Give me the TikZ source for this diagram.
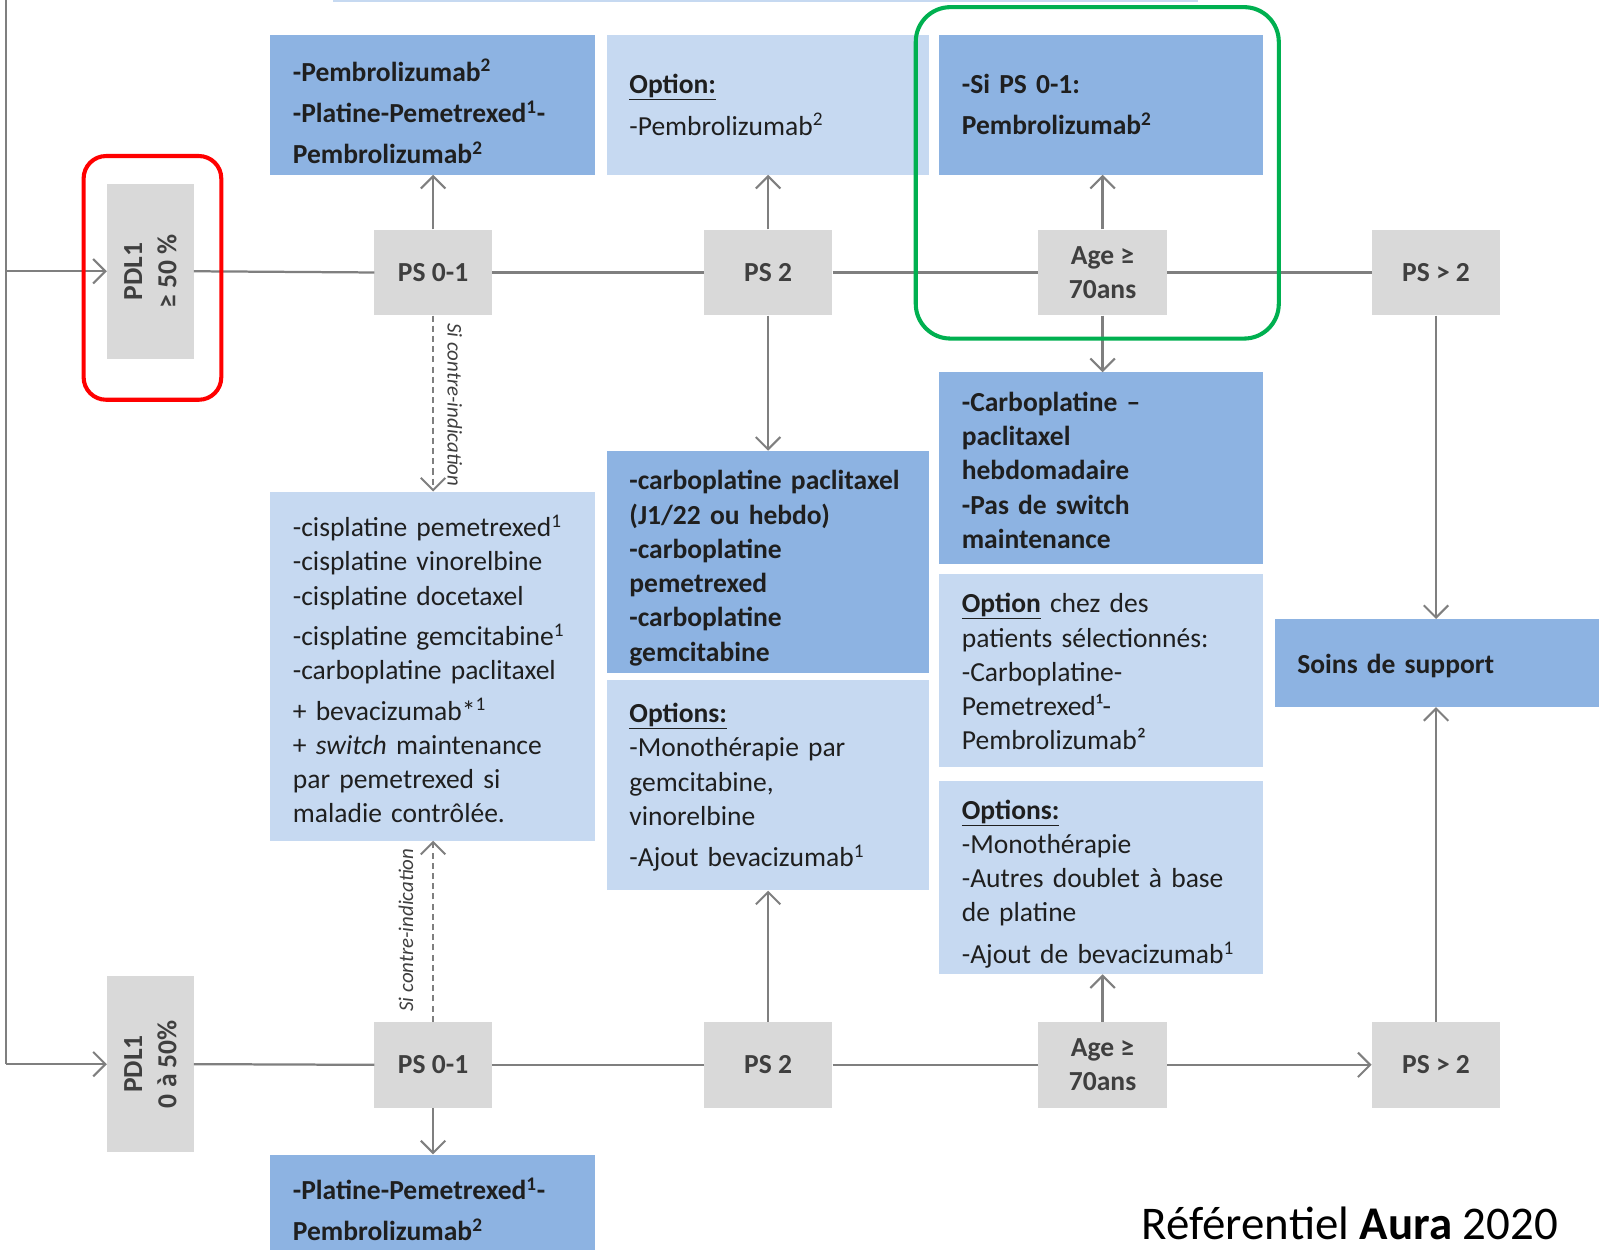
\documentclass[tikz,border=0pt]{standalone}
\usepackage{fontspec}
\setmainfont{Carlito}
\usetikzlibrary{arrows.meta,calc}
\definecolor{dkb}{HTML}{8DB3E2}
\definecolor{ltb}{HTML}{C6D9F1}
\definecolor{gry}{HTML}{D9D9D9}
\definecolor{lnc}{HTML}{7F7F7F}
\definecolor{txc}{HTML}{1F1F1F}
\definecolor{gtx}{HTML}{3F3F3F}
\definecolor{grn}{HTML}{00B050}
\definecolor{rdc}{HTML}{FF0000}
\newcommand\sps[1]{\smash{\textsuperscript{#1}}}
\newcommand\fsz{\fontsize{27}{33.6}\selectfont}
% push a box's text down by #1 (first-line strut)
\newcommand\dn[1]{\rule{0pt}{\dimexpr 19pt + 2\dimexpr #1\relax\relax}}
\begin{document}
\begin{tikzpicture}[x=1pt,y=-1pt,
  bx/.style={rectangle, anchor=north west, inner xsep=22pt, inner ysep=0pt, align=left, font=\fsz, text=txc},
  dk/.style={bx, fill=dkb, font=\fsz\bfseries},
  lt/.style={bx, fill=ltb},
  gbox/.style={rectangle, fill=gry, inner sep=0pt, align=center, font=\fsz\bfseries, text=gtx},
  ln/.style={draw=lnc, line width=2.2pt},
  arr/.style={ln, -{Straight Barb[length=12pt,width=24pt,line width=2pt]}},
  darr/.style={arr, line width=1.6pt, dash pattern=on 6pt off 4pt},
  lbl/.style={font=\fontsize{20.5}{24}\selectfont\itshape, text=gtx, inner sep=0pt}
]
\useasboundingbox (0,0) rectangle (1568,1225);
\fill[white] (0,0) rectangle (1568,1225);

% top strip (cut-off box)
\fill[ltb] (327,-5) rectangle (1175,2);

% ---------- row 1 ----------
\node[gbox, rotate=90, minimum width=172pt, minimum height=85pt] (pdlA) at (147.5,266) {PDL1\\≥ 50 \%};
\node[gbox, anchor=north west, minimum width=115pt, minimum height=84pt] (p01a) at (367,225) {PS 0-1};
\node[gbox, anchor=north west, minimum width=126pt, minimum height=84pt] (p2a) at (690,225) {PS 2};
\node[gbox, anchor=north west, minimum width=126pt, minimum height=84pt] (agea) at (1018,225) {Age ≥\\70ans};
\node[gbox, anchor=north west, minimum width=126pt, minimum height=84pt] (p3a) at (1345,225) {PS > 2};

% top boxes
\node[dk, minimum width=318pt, minimum height=137pt, text width=274pt] (bA) at (265,34)
  {\dn{8pt}-Pembrolizumab\sps{2}\\[7pt]-Platine-Pemetrexed\sps{1}-\\[7pt]Pembrolizumab\sps{2}};
\node[lt, minimum width=316pt, minimum height=137pt, text width=272pt] (bB) at (595,34)
  {\underline{\textbf{Option:}}\\[7pt]-Pembrolizumab\sps{2}};
\node[dk, minimum width=317pt, minimum height=137pt, text width=273pt] (bC) at (921,34)
  {-Si PS 0-1:\\[7pt]Pembrolizumab\sps{2}};

% middle boxes
\node[lt, minimum width=318pt, minimum height=342pt, text width=274pt] (bF) at (265,482)
  {\dn{4pt}-cisplatine pemetrexed\sps{1}\\-cisplatine vinorelbine\\-cisplatine docetaxel\\[6pt]-cisplatine gemcitabine\sps{1}\\-carboplatine paclitaxel\\[6pt]+ bevacizumab*\sps{1}\\+ \textit{switch} maintenance\\par pemetrexed si\\maladie contrôlée.};
\node[dk, minimum width=316pt, minimum height=218pt, text width=272pt] (bE) at (595,442)
  {\dn{6pt}-carboplatine paclitaxel\\(J1/22 ou hebdo)\\-carboplatine\\pemetrexed\\-carboplatine\\gemcitabine};
\node[lt, minimum width=316pt, minimum height=206pt, text width=272pt] (bI) at (595,667)
  {\dn{2pt}\underline{\textbf{Options:}}\\-Monothérapie par\\gemcitabine,\\vinorelbine\\[7pt]-Ajout bevacizumab\sps{1}};
\node[dk, minimum width=317pt, minimum height=188pt, text width=273pt] (bD) at (921,365)
  {\dn{2pt}-Carboplatine –\\paclitaxel\\hebdomadaire\\-Pas de switch\\maintenance};
\node[lt, minimum width=317pt, minimum height=189pt, text width=273pt] (bG) at (921,563)
  {\dn{1pt}\underline{\textbf{Option}} chez des\\patients sélectionnés:\\-Carboplatine-\\Pemetrexed¹-\\Pembrolizumab²};
\node[lt, minimum width=317pt, minimum height=189pt, text width=273pt] (bH) at (921,766)
  {\dn{6pt}\underline{\textbf{Options:}}\\-Monothérapie\\-Autres doublet à base\\de platine\\[7pt]-Ajout de bevacizumab\sps{1}};
\node[dk, minimum width=318pt, minimum height=86pt, text width=274pt] (soins) at (1250,607)
  {\dn{3pt}Soins de support};

% ---------- row 2 ----------
\node[gbox, rotate=90, minimum width=172pt, minimum height=85pt] (pdlB) at (147.5,1043.5) {PDL1\\0 à 50\%};
\node[gbox, anchor=north west, minimum width=115pt, minimum height=84pt] (p01b) at (367,1002) {PS 0-1};
\node[gbox, anchor=north west, minimum width=126pt, minimum height=84pt] (p2b) at (690,1002) {PS 2};
\node[gbox, anchor=north west, minimum width=126pt, minimum height=84pt] (ageb) at (1018,1002) {Age ≥\\70ans};
\node[gbox, anchor=north west, minimum width=126pt, minimum height=84pt] (p3b) at (1345,1002) {PS > 2};
\node[dk, minimum width=318pt, minimum height=110pt, text width=274pt] (bJ) at (265,1132)
  {-Platine-Pemetrexed\sps{1}-\\[7pt]Pembrolizumab\sps{2}};

% ---------- connectors ----------
\coordinate (ltop) at (6,-5);
\coordinate (ljA) at (6,266);
\coordinate (lbot) at (6,1043.5);
\draw[ln] (ltop) -- (lbot);
\draw[arr] (ljA) -- (pdlA.north);
\draw[arr] (lbot) -- (pdlB.north);

\draw[ln] (pdlA.south) -- (p01a.west);
\draw[ln] (p01a.east) -- (p2a.west);
\draw[ln] (p2a.east) -- (agea.west);
\draw[ln] (agea.east) -- (p3a.west);

\draw[ln] (pdlB.south) -- (p01b.west);
\draw[ln] (p01b.east) -- (p2b.west);
\draw[ln] (p2b.east) -- (ageb.west);
\draw[arr] (ageb.east) -- (p3b.west);

\draw[arr] (p01a.north) -- (p01a.north |- bA.south);
\draw[arr] (p2a.north) -- (p2a.north |- bB.south);
\draw[arr] (agea.north) -- (agea.north |- bC.south);
\draw[arr] (agea.south) -- (agea.south |- bD.north);
\draw[arr] (p2a.south) -- (p2a.south |- bE.north);
\draw[darr] (p01a.south) -- (p01a.south |- bF.north);
\draw[arr] (p3a.south) -- (p3a.south |- soins.north);

\draw[darr] (p01b.north) -- (p01b.north |- bF.south);
\draw[arr] (p2b.north) -- (p2b.north |- bI.south);
\draw[arr] (ageb.north) -- (ageb.north |- bH.south);
\draw[arr] (p3b.north) -- (p3b.north |- soins.south);
\draw[arr] (p01b.south) -- (p01b.south |- bJ.north);

\node[lbl, rotate=-90] (lblA) at (446,397) {Si contre-indication};
\node[lbl, rotate=90] (lblB) at (398,912) {Si contre-indication};

% highlight frames
\draw[rdc, line width=4pt, rounded corners=22pt] (82,153) rectangle (217,392);
\draw[grn, line width=4pt, rounded corners=34pt] (898,7) rectangle (1254,332);

% footer
\node[anchor=base east, inner sep=0pt, font=\fontsize{46}{50}\selectfont, text=black] (foot) at (1528,1215) {Référentiel \textbf{Aura} 2020};
\end{tikzpicture}
\end{document}
